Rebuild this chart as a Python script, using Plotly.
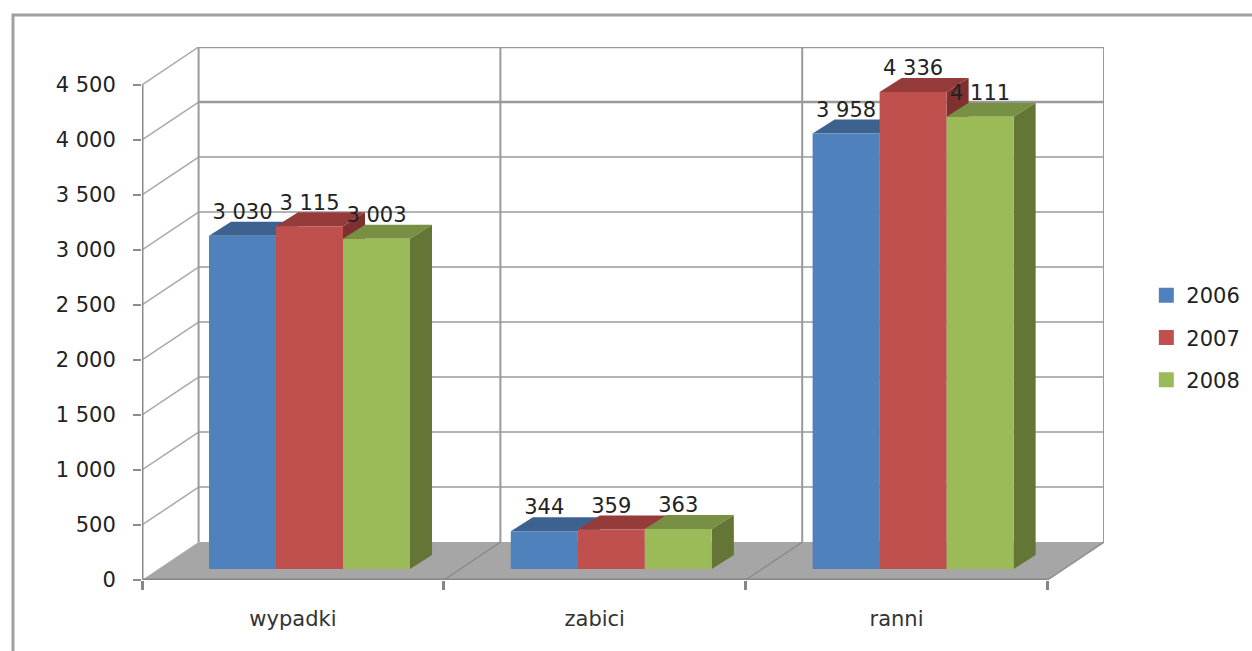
import plotly.graph_objects as go

# Data
categories = ['wypadki', 'zabici', 'ranni']
years = ['2006', '2007', '2008']
values_2006 = [3030, 344, 3958]
values_2007 = [3115, 359, 4336]
values_2008 = [3003, 363, 4111]
labels_2006 = ['3 030', '344', '3 958']
labels_2007 = ['3 115', '359', '4 336']
labels_2008 = ['3 003', '363', '4 111']
y_ticks = [0, 500, 1000, 1500, 2000, 2500, 3000, 3500, 4000, 4500]
y_tick_text = ['0', '500', '1 000', '1 500', '2 000', '2 500', '3 000', '3 500', '4 000', '4 500']

# Colours: front, top, side
BLUE = ('#4f81bd', '#3e628f', '#3a5f8c')
RED = ('#c0504d', '#953c3a', '#7f3130')
GREEN = ('#9bbb59', '#789043', '#647536')
WALL = '#9a9a9a'
FONT = 'DejaVu Sans'
TEXT = '#222222'

# 3D look, in axis units (one category wide, y in chart values)
WALL_DX = 0.1875
WALL_DY = 345
BAR_DX = 0.073
BAR_DY = 127
BAR_W = 0.222
BAR_BASE = 100
LABEL_LIFT = 200
GROUP_START = 0.222

fig = go.Figure()


def add_line(x, y, width=2, color=WALL, z=0):
    fig.add_trace(go.Scatter(x=x, y=y, mode='lines', line=dict(color=color, width=width),
                             showlegend=False, hoverinfo='skip', cliponaxis=False, zorder=z))


def add_poly(x, y, color, z):
    fig.add_trace(go.Scatter(x=x, y=y, mode='lines', fill='toself', fillcolor=color,
                             line=dict(width=0), showlegend=False, hoverinfo='skip', zorder=z))


# Back wall and left wall, the top two lines are heavier in the reference
for v in y_ticks[1:]:
    add_line([WALL_DX, 3 + WALL_DX], [v + WALL_DY, v + WALL_DY], width=2.5 if v >= 4000 else 1.5)
    add_line([0, WALL_DX], [v, v + WALL_DY], width=1.5, color='#a8a8a8')
for c in range(4):
    add_line([c + WALL_DX, c + WALL_DX], [WALL_DY, 4500 + WALL_DY])

# Floor
add_poly([0, WALL_DX, 3 + WALL_DX, 3, 0], [0, WALL_DY, WALL_DY, 0, 0], '#a6a6a6', 1)
for c in range(1, 4):
    add_line([c, c + WALL_DX], [0, WALL_DY], width=1.5, color='#8c8c8c', z=2)
add_line([0, 3], [0, 0], width=3, color='#868686', z=2)
add_line([0, 0], [0, 4500], width=3, color='#8c8c8c', z=2)

# Bars: one series at a time so each one covers the sides of the one before
series = [(years[0], values_2006, labels_2006, BLUE),
          (years[1], values_2007, labels_2007, RED),
          (years[2], values_2008, labels_2008, GREEN)]
for s, (name, values, labels, colors) in enumerate(series):
    z = 3 + 3 * s
    lefts = [c + GROUP_START + s * BAR_W for c in range(len(categories))]
    for left, v in zip(lefts, values):
        right = left + BAR_W
        top = BAR_BASE + v
        add_poly([left, right, right + BAR_DX, left + BAR_DX, left],
                 [top, top, top + BAR_DY, top + BAR_DY, top], colors[1], z)
        add_poly([right, right + BAR_DX, right + BAR_DX, right, right],
                 [BAR_BASE, BAR_BASE + BAR_DY, top + BAR_DY, top, BAR_BASE], colors[2], z)
    fig.add_trace(go.Bar(x=[l + BAR_W / 2 for l in lefts], y=values, base=BAR_BASE, width=BAR_W,
                         name=name, showlegend=False, marker=dict(color=colors[0], line=dict(width=0)),
                         hoverinfo='skip', zorder=z + 1))
    # legend-only trace, the thick outline brings the swatch up to the reference size
    fig.add_trace(go.Bar(x=[None], y=[None], name=name, legendgroup=name,
                         marker=dict(color=colors[0], line=dict(color=colors[0], width=3))))

# Data labels go above everything
for s, (name, values, labels, colors) in enumerate(series):
    fig.add_trace(go.Scatter(
        x=[c + GROUP_START + (s + 0.5) * BAR_W for c in range(len(categories))],
        y=[BAR_BASE + v + LABEL_LIFT for v in values],
        mode='text', text=labels, textposition='middle center',
        textfont=dict(family=FONT, size=21, color=TEXT),
        showlegend=False, hoverinfo='skip', cliponaxis=False, zorder=20))

fig.update_layout(
    width=1252,
    height=651,
    margin=dict(l=142, r=148, t=47, b=71, autoexpand=False),
    paper_bgcolor='white',
    plot_bgcolor='white',
    barmode='overlay',
    font=dict(family=FONT, size=20, color=TEXT),
    xaxis=dict(range=[0, 3 + WALL_DX], tickmode='array', tickvals=[0.5, 1.5, 2.5], ticktext=categories,
               ticks='', showgrid=False, zeroline=False, showline=False, ticklabelstandoff=24,
               tickfont=dict(family=FONT, size=21, color='#333333'),
               minor=dict(tickmode='array', tickvals=[0, 1, 2, 3], ticks='outside', ticklen=9,
                          tickwidth=2.5, tickcolor='#868686', showgrid=False)),
    yaxis=dict(range=[0, 4845], tickmode='array', tickvals=y_ticks, ticktext=y_tick_text,
               ticks='outside', ticklen=8, tickwidth=2, tickcolor='#8c8c8c', showgrid=False,
               zeroline=False, showline=False, ticklabelstandoff=13,
               tickfont=dict(family=FONT, size=21, color=TEXT)),
    legend=dict(x=1.044, y=0.572, xanchor='left', yanchor='top', tracegroupgap=12,
                traceorder='grouped', font=dict(family=FONT, size=21, color=TEXT)),
    # Outer chart frame, runs off the right and bottom of the picture
    shapes=[dict(type='rect', xref='paper', yref='paper', layer='below',
                 x0=-129 / 962, x1=1.3, y0=-0.3, y1=565 / 533,
                 line=dict(color='#a0a0a0', width=3))],
)

# the page's default body margin would push the chart off the reference position
fig.write_html("out.html", config={'displayModeBar': False},
               post_script="document.body.style.margin='0';")
